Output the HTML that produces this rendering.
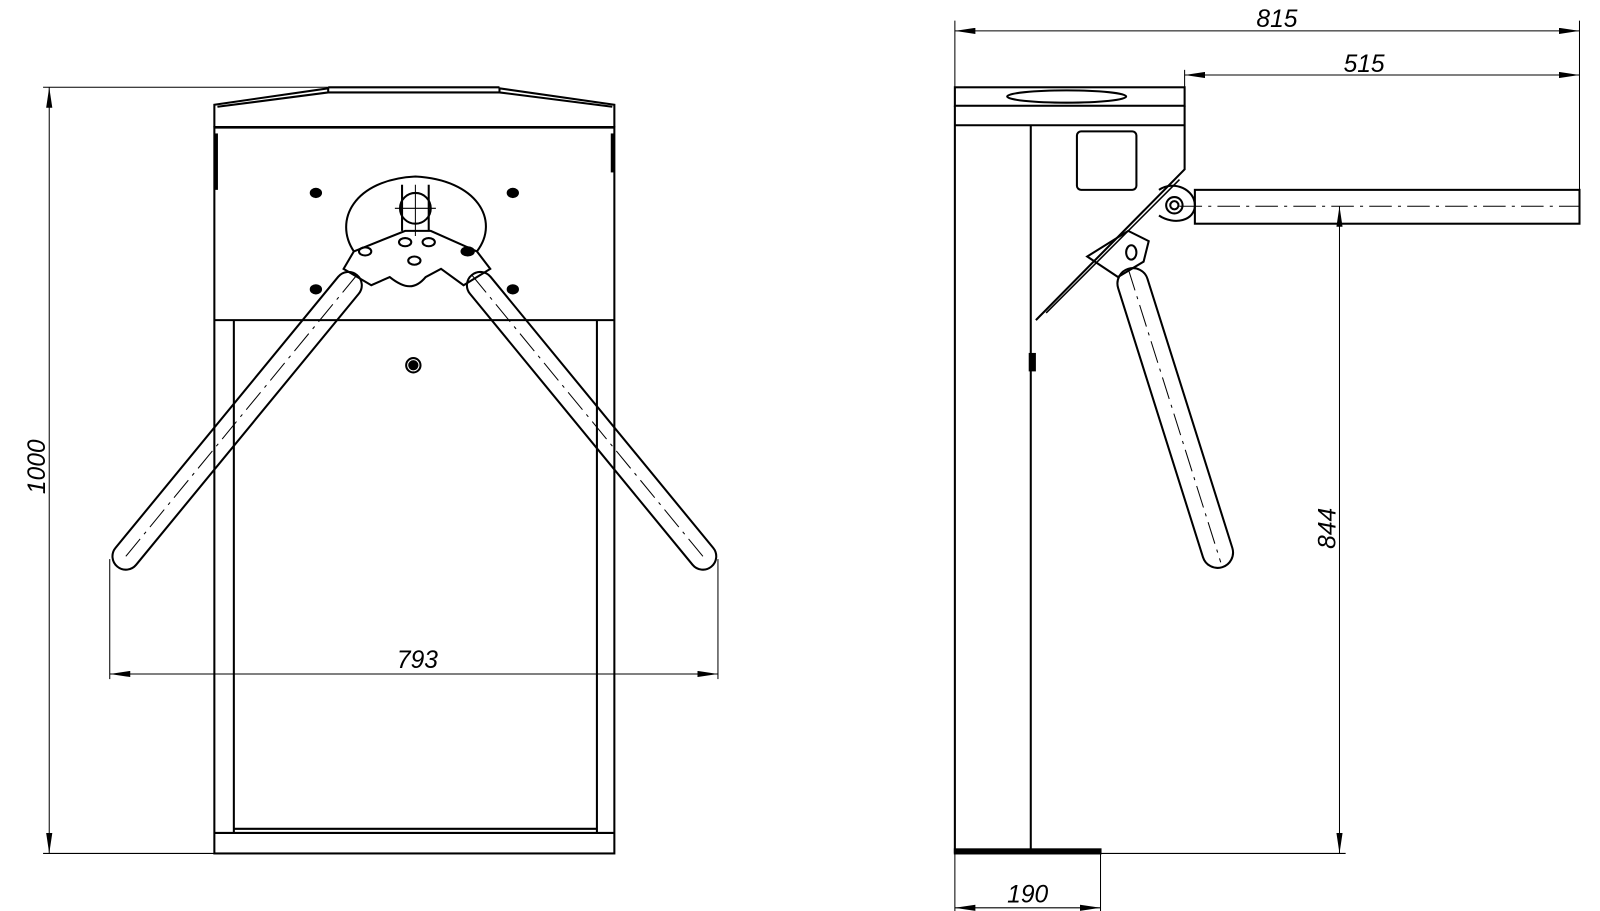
<!DOCTYPE html>
<html><head><meta charset="utf-8"><style>html,body{margin:0;padding:0;background:#fff}svg{display:block}</style></head>
<body>
<svg width="1600" height="911" viewBox="0 0 1560 888" xmlns="http://www.w3.org/2000/svg" font-family="Liberation Sans, sans-serif">
<defs>
<marker id="a" viewBox="0 0 20 6" refX="20" refY="3" markerWidth="20" markerHeight="6" orient="auto-start-reverse" markerUnits="userSpaceOnUse"><path d="M0,0 L20,3 L0,6 z" fill="#000"/></marker>
</defs>
<g fill="none" stroke="#000" stroke-width="2">
<!-- LEFT VIEW -->
<path d="M209,124 L209,102 L320,86 L320,90 L487,90 L487,86 L599,102 L599,124"/>
<path d="M212,104 L320,90 M487,90 L597,104"/>
<line x1="320" y1="85" x2="487" y2="85"/>
<line x1="209" y1="124" x2="599" y2="124" stroke-width="2.5"/>
<rect x="209" y="124" width="390" height="708"/>
<line x1="209" y1="312" x2="599" y2="312"/>
<line x1="228" y1="312" x2="228" y2="812"/>
<line x1="582" y1="312" x2="582" y2="812"/>
<line x1="209" y1="812" x2="599" y2="812"/>
<line x1="228" y1="808" x2="582" y2="808"/>
<line x1="211" y1="130" x2="211" y2="185" stroke-width="3"/>
<line x1="597" y1="130" x2="597" y2="168" stroke-width="3"/>
<!-- hub -->
<path d="M345,245 C325,215 345,175 405,172 C465,175 488,215 465,245"/>
<path d="M345,245 L395,225 L420,225 L465,245 L478,262 L452,278 L430,262 L415,270 C405,282 395,282 380,270 L362,278 L335,262 Z"/>
<circle cx="405" cy="203" r="15"/>
<line x1="385" y1="203" x2="425" y2="203" stroke-width="1"/>
<line x1="405" y1="180" x2="405" y2="230" stroke-width="1"/>
<line x1="392" y1="180" x2="392" y2="225"/><line x1="418" y1="180" x2="418" y2="225"/>
<ellipse cx="356" cy="245" rx="6" ry="4"/><ellipse cx="456" cy="245" rx="6" ry="4" fill="#000"/>
<ellipse cx="404" cy="254" rx="6" ry="4"/><ellipse cx="395" cy="236" rx="6" ry="4"/><ellipse cx="418" cy="236" rx="6" ry="4"/>
<ellipse cx="308" cy="188" rx="5" ry="4" fill="#000"/><ellipse cx="500" cy="188" rx="5" ry="4" fill="#000"/>
<ellipse cx="308" cy="282" rx="5" ry="4" fill="#000"/><ellipse cx="500" cy="282" rx="5" ry="4" fill="#000"/>
<circle cx="403" cy="356" r="7"/><circle cx="403" cy="356" r="4" fill="#000"/>
<!-- arms -->
<g transform="translate(348,268) rotate(39.4)"><rect x="-13" y="0" width="26" height="368" rx="13"/><line x1="0" y1="0" x2="0" y2="360" stroke-width="1" stroke-dasharray="22,6,3,6"/></g>
<g transform="translate(460,268) rotate(-39.4)"><rect x="-13" y="0" width="26" height="368" rx="13"/><line x1="0" y1="0" x2="0" y2="360" stroke-width="1" stroke-dasharray="22,6,3,6"/></g>
</g>
<g stroke="#000" stroke-width="1" fill="none">
<!-- 1000 -->
<line x1="42" y1="85" x2="320" y2="85"/><line x1="42" y1="832" x2="209" y2="832"/>
<line x1="48" y1="85" x2="48" y2="832" marker-start="url(#a)" marker-end="url(#a)"/>
<!-- 793 -->
<line x1="107" y1="545" x2="107" y2="662"/><line x1="700" y1="545" x2="700" y2="662"/>
<line x1="107" y1="657" x2="700" y2="657" marker-start="url(#a)" marker-end="url(#a)"/>
<!-- 815 / 515 -->
<line x1="931" y1="20" x2="931" y2="85"/><line x1="1540" y1="20" x2="1540" y2="185"/>
<line x1="931" y1="30" x2="1540" y2="30" marker-start="url(#a)" marker-end="url(#a)"/>
<line x1="1155" y1="68" x2="1155" y2="85"/>
<line x1="1155" y1="73" x2="1540" y2="73" marker-start="url(#a)" marker-end="url(#a)"/>
<!-- 844 -->
<line x1="1306" y1="201" x2="1306" y2="832" marker-start="url(#a)" marker-end="url(#a)"/>
<line x1="1073" y1="832" x2="1312" y2="832"/>
<!-- 190 -->
<line x1="931" y1="832" x2="931" y2="890"/><line x1="1073" y1="832" x2="1073" y2="890"/>
<line x1="931" y1="885" x2="1073" y2="885" marker-start="url(#a)" marker-end="url(#a)"/>
</g>
<!-- RIGHT VIEW -->
<g fill="none" stroke="#000" stroke-width="2">
<rect x="931" y="85" width="224" height="18"/>
<ellipse cx="1040" cy="94" rx="58" ry="6"/>
<line x1="931" y1="103" x2="931" y2="832"/>
<line x1="931" y1="122" x2="1155" y2="122"/>
<line x1="1005" y1="122" x2="1005" y2="828"/>
<path d="M1155,103 L1155,165 L1010,312"/>
<path d="M1150,175 L1020,305" stroke-width="1.5"/>
<rect x="1050" y="128" width="58" height="57" rx="4"/>
<path d="M1060,250 L1090,270 L1115,255 L1120,235 L1100,225 Z"/>
<ellipse cx="1103" cy="246" rx="5" ry="7"/>
<path d="M1130,185 C1145,175 1165,185 1165,200 C1165,215 1145,220 1130,210"/>
<circle cx="1145" cy="200" r="8"/><circle cx="1145" cy="200" r="4"/>
<rect x="1165" y="185" width="375" height="33"/>
<line x1="1150" y1="201" x2="1540" y2="201" stroke-width="1" stroke-dasharray="22,6,3,6"/>
<g transform="translate(1100,262) rotate(-17.5)"><rect x="-15" y="0" width="30" height="305" rx="15"/><line x1="0" y1="0" x2="0" y2="300" stroke-width="1" stroke-dasharray="22,6,3,6"/></g>
<rect x="931" y="828" width="142" height="4" fill="#000"/>
<rect x="1004" y="345" width="5" height="16" fill="#000"/>
</g>
<g font-style="italic" font-size="24" fill="#000">
<text x="1245" y="26" text-anchor="middle">815</text>
<text x="1330" y="70" text-anchor="middle">515</text>
<text x="407" y="651" text-anchor="middle">793</text>
<text x="1002" y="880" text-anchor="middle">190</text>
<text transform="translate(44,455) rotate(-90)" text-anchor="middle">1000</text>
<text transform="translate(1302,515) rotate(-90)" text-anchor="middle">844</text>
</g>
</svg>
</body></html>
